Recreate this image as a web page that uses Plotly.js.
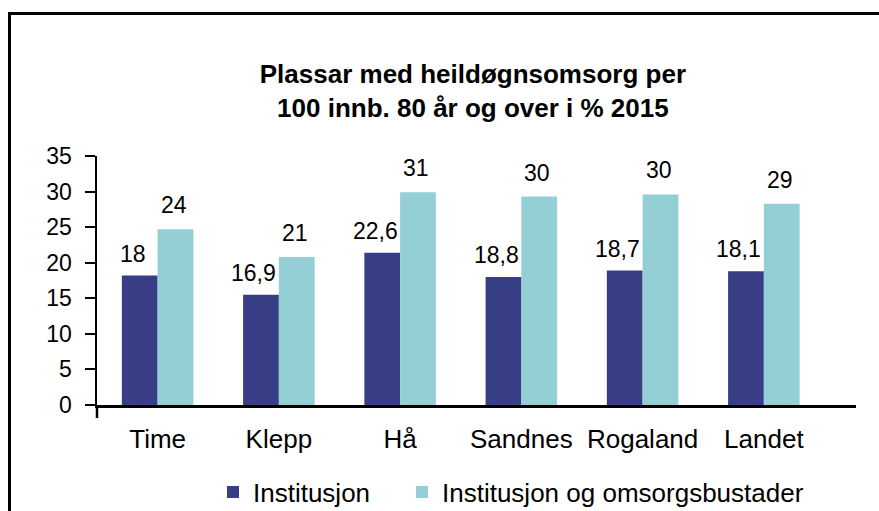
<!DOCTYPE html>
<html>
<head>
<meta charset="utf-8">
<script src="https://cdn.plot.ly/plotly-3.0.1.min.js"></script>
<style>
  html, body { margin: 0; padding: 0; background: #fff; overflow: hidden; }
  #wrap { position: relative; width: 879px; height: 511px; }
  #chart { position: absolute; left: 0; top: 0; width: 879px; height: 511px; }
  #frame { position: absolute; left: 8px; top: 12px; width: 900px; height: 600px;
           border: 3px solid #000; box-sizing: border-box; pointer-events: none; }
</style>
</head>
<body>
<div id="wrap">
  <div id="chart"></div>
  <div id="frame"></div>
</div>
<script>
// Categories and series
var categories = ["Time", "Klepp", "Hå", "Sandnes", "Rogaland", "Landet"];
var institusjon = [18.2, 15.5, 21.4, 18.0, 18.9, 18.8];
var institusjonOmsorg = [24.7, 20.8, 29.9, 29.3, 29.6, 28.3];
// Data label texts as printed in the chart
var institusjonLabels = ["18", "16,9", "22,6", "18,8", "18,7", "18,1"];
var institusjonOmsorgLabels = ["24", "21", "31", "30", "30", "29"];
var yTickVals = [0, 5, 10, 15, 20, 25, 30, 35];

var font = "Liberation Sans, Arial, sans-serif";
var c1 = "#383E86";
var c2 = "#94CFD6";

var traces = [
  { type: "bar", name: "Institusjon", x: categories, y: institusjon,
    marker: { color: c1 }, hoverinfo: "skip", legend: "legend" },
  { type: "bar", name: "Institusjon og omsorgsbustader", x: categories, y: institusjonOmsorg,
    marker: { color: c2 }, hoverinfo: "skip", legend: "legend2" }
];

var annotations = [];
categories.forEach(function (c, i) {
  annotations.push({ x: c, y: institusjon[i], xref: "x", yref: "y", text: institusjonLabels[i],
    showarrow: false, xshift: -25, yshift: 22, yanchor: "middle",
    font: { family: font, size: 23, color: "#000" } });
  annotations.push({ x: c, y: institusjonOmsorg[i], xref: "x", yref: "y", text: institusjonOmsorgLabels[i],
    showarrow: false, xshift: 16, yshift: 24, yanchor: "middle",
    font: { family: font, size: 23, color: "#000" } });
});

var legendBase = {
  orientation: "h", xref: "container", xanchor: "left",
  y: 1 - 492 / 511, yref: "container", yanchor: "middle",
  font: { family: font, size: 26, color: "#000" },
  bgcolor: "rgba(0,0,0,0)"
};

var layout = {
  width: 879, height: 511,
  paper_bgcolor: "rgba(0,0,0,0)", plot_bgcolor: "rgba(0,0,0,0)",
  margin: { l: 97, r: 23, t: 156, b: 106 },
  font: { family: font, color: "#000" },
  title: {
    text: "<b>Plassar med heildøgnsomsorg per<br>100 innb. 80 år og over i % 2015</b>",
    font: { family: font, size: 26, color: "#000" },
    x: 0.538, xanchor: "center", xref: "container",
    y: 1 - 83 / 511, yanchor: "middle", yref: "container"
  },
  barmode: "group", bargap: 0.41, bargroupgap: 0,
  showlegend: true,
  legend: Object.assign({}, legendBase, { x: 213 / 879 }),
  legend2: Object.assign({}, legendBase, { x: 402 / 879 }),
  xaxis: {
    type: "category", range: [-0.5, 5.76], showgrid: false, zeroline: false,
    showline: true, linecolor: "#000", linewidth: 2.5, ticks: "",
    tickfont: { family: font, size: 26, color: "#000" }, ticklabelstandoff: 9,
    fixedrange: true
  },
  yaxis: {
    range: [0, 35], tickmode: "array", tickvals: yTickVals,
    showgrid: false, zeroline: false, showline: true, linecolor: "#000", linewidth: 2.5,
    ticks: "outside", ticklen: 10, tickwidth: 2, tickcolor: "#000",
    tickfont: { family: font, size: 23, color: "#000" }, ticklabelstandoff: 8,
    fixedrange: true
  },
  shapes: [
    { type: "line", xref: "paper", yref: "paper", x0: 0, x1: 0, y0: 0, y1: -13 / 249,
      line: { color: "#000", width: 2.5 } }
  ],
  annotations: annotations
};

Plotly.newPlot("chart", traces, layout, { displayModeBar: false, staticPlot: true });
</script>
</body>
</html>
